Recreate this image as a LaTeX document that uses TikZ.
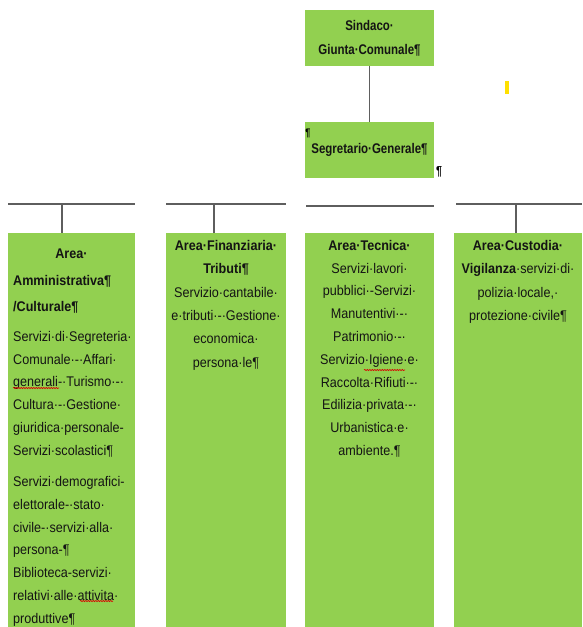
\documentclass[tikz,border=0pt]{standalone}
\usepackage{fontspec}
\setmainfont{Liberation Sans}[FakeStretch=0.9]
\newfontfamily\topfont{Liberation Sans}[FakeStretch=0.82]
\usetikzlibrary{positioning,decorations.pathmorphing}
\definecolor{areagreen}{HTML}{92D050}
\definecolor{linegray}{HTML}{5E5E5E}
\definecolor{markyellow}{HTML}{FFE000}
\tikzset{
  box/.style={fill=areagreen, inner sep=0pt},
  link/.style={draw=linegray, line width=1.2pt},
  body/.style={inner sep=0pt, align=center, text=black!92, font={\fontsize{14}{#1}\selectfont}},
  body/.default=22.8,
  topbox/.style={box, minimum width=129pt, minimum height=56pt, align=center, text=black!92,
    font={\topfont\fontsize{14}{24}\selectfont\bfseries}},
  squiggle/.style={red!85!black, line width=0.6pt, decorate,
    decoration={snake, amplitude=0.6pt, segment length=2.5pt}}
}
\begin{document}
\begin{tikzpicture}[x=1pt, y=-1pt]
\useasboundingbox (0,0) rectangle (582,627);
% Vertice
\node[topbox] (sindaco) at (369.5,38) {Sindaco·\\Giunta·Comunale¶};
\node[topbox] (segretario) at (369.5,150) {Segretario·Generale¶};
\draw[link] (sindaco) -- (segretario);
\node[inner sep=0pt, font={\topfont\fontsize{11}{11}\selectfont\bfseries}] (pilA) at (308,133) {¶};
\node[inner sep=0pt, font={\topfont\fontsize{13}{13}\selectfont\bfseries}] (pilB) at (439,172) {¶};
% segno giallo
\fill[markyellow] (505,81) rectangle (508.5,94);
% Aree
\node[box, minimum width=127pt, minimum height=394pt] (areaA) at (71.5,430) {};
\node[box, minimum width=120pt, minimum height=394pt] (areaB) at (226,430) {};
\node[box, minimum width=129pt, minimum height=394pt] (areaC) at (369.5,430) {};
\node[box, minimum width=128pt, minimum height=394pt] (areaD) at (518,430) {};
% Linee orizzontali e collegamenti
\foreach \a/\b/\y in {8/135/204, 166/286/204, 306/434/206, 456/582/204} {
  \draw[link] (\a,\y) -- (\b,\y);
}
\coordinate (stemA) at (62,204);
\coordinate (stemB) at (214,204);
\coordinate (stemD) at (516,204);
\draw[link] (stemA) -- (stemA |- areaA.north);
\draw[link] (stemB) -- (stemB |- areaB.north);
\draw[link] (stemD) -- (stemD |- areaD.north);
% Testi area amministrativa
\node[body, font={\fontsize{14}{26}\selectfont\bfseries}, anchor=north] (titA) at (71.5,249) {Area·};
\node[body=26, align=left, font={\fontsize{14}{26}\selectfont\bfseries}, anchor=north west]
  (titA2) at (13,275) {Amministrativa¶\\/Culturale¶};
\node[body, align=left, anchor=north west] (txtA) at (13,331)
  {Servizi·di·Segreteria·\\Comunale·-·Affari·\\generali-·Turismo·-·\\Cultura·-·Gestione·\\
   giuridica·personale-\\Servizi·scolastici¶\\[8.4pt]Servizi·demografici-\\elettorale-·stato·\\
   civile-·servizi·alla·\\persona-¶\\Biblioteca-servizi·\\relativi·alle·attivita·\\produttive¶};
% Testi area finanziaria
\node[body=23.4, anchor=north] (txtB) at (226,240)
  {\textbf{Area·Finanziaria·}\\\textbf{Tributi¶}\\Servizio·cantabile·\\e·tributi·-·Gestione·\\
   economica·\\persona·le¶};
% Testi area tecnica
\node[body=22.8, anchor=north] (txtC) at (369.5,240)
  {\textbf{Area·Tecnica·}\\Servizi·lavori·\\pubblici·-Servizi·\\Manutentivi·-·\\Patrimonio·-·\\
   Servizio·Igiene·e·\\Raccolta·Rifiuti·-·\\Edilizia·privata·-·\\Urbanistica·e·\\ambiente.¶};
% Testi area custodia
\node[body=23.4, anchor=north] (txtD) at (518,240)
  {\textbf{Area·Custodia·}\\\textbf{Vigilanza}·servizi·di·\\polizia·locale,·\\protezione·civile¶};
% sottolineature ortografiche
\draw[squiggle] (13,388) -- (59,388);
\draw[squiggle] (364,370) -- (405,370);
\draw[squiggle] (80,601) -- (113,601);
\end{tikzpicture}
\end{document}
